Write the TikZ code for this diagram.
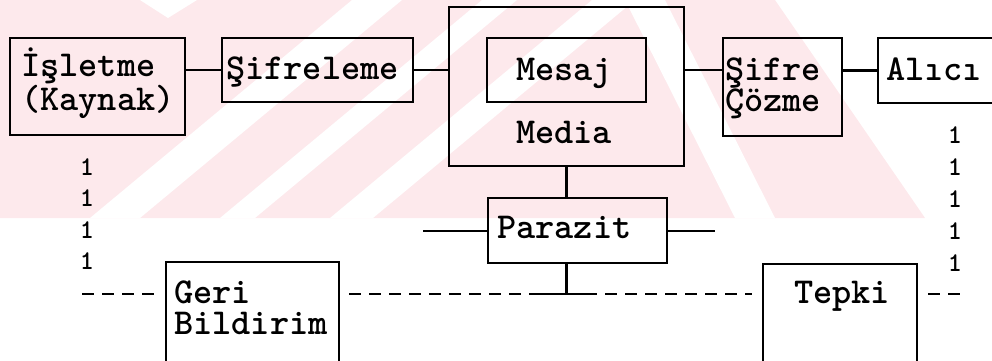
\documentclass[tikz,border=0pt]{standalone}
\definecolor{wmpink}{RGB}{253,233,236}
\tikzset{
  box/.style={draw=black, line width=2.4pt, inner sep=0pt, outer sep=0pt},
  wire/.style={draw=black, line width=2.2pt},
  fb/.style={draw=black, line width=2.2pt, dash pattern=on 12pt off 8pt},
  lbl/.style={font=\fontsize{36.5}{31}\selectfont\ttfamily\bfseries, inner sep=0pt,
              anchor=base west, align=left},
  tick/.style={font=\fontsize{27}{27}\selectfont\ttfamily\bfseries, inner sep=0pt, anchor=base}
}
\begin{document}
\begin{tikzpicture}[x=1pt,y=-1pt]
\useasboundingbox (0,0) rectangle (992,360);
\clip (0,0) rectangle (992,360);

% faint striped tint behind the upper half
\begin{scope}
  \clip (0,0) rectangle (992,218);
  \fill[wmpink] (0,0) -- (775,0) -- (925,218) -- (0,218) -- cycle;
  \fill[white] (140,0) -- (197,0) -- (168,18) -- cycle;
  \fill[white] (352,0) -- (402,0) -- (140,218) -- (90,218) -- cycle;
  \fill[white] (482,0) -- (517,0) -- (255,218) -- (220,218) -- cycle;
  \fill[white] (592,0) -- (635,0) -- (373,218) -- (330,218) -- cycle;
  \fill[white] (625,0) -- (665,0) -- (775,218) -- (735,218) -- cycle;
\end{scope}

% boxes
\node[box, minimum width=175pt, minimum height=97pt]  (isl)     at (97.5,86.5)  {};
\node[box, minimum width=191pt, minimum height=64pt]  (sif)     at (317.5,70)   {};
\node[box, minimum width=235pt, minimum height=159pt] (media)   at (566.5,86.5) {};
\node[box, minimum width=159pt, minimum height=64pt]  (mesaj)   at (566.5,70)   {};
\node[box, minimum width=119pt, minimum height=98pt]  (coz)     at (782.5,87)   {};
\node[box, minimum width=140pt, minimum height=65pt]  (alici)   at (948,70.5)   {};
\node[box, minimum width=179pt, minimum height=65pt]  (parazit) at (577.5,230.5){};
\node[box, minimum width=173pt, minimum height=120pt] (geri)    at (252.5,322)  {};
\node[box, minimum width=154pt, minimum height=120pt] (tepki)   at (840,324)    {};

% labels (multi-line ones sit on the baseline of their last line)
\node[lbl] (islT) at (21,110)  {İşletme\\(Kaynak)};
\node[lbl] (sifT) at (226,79)  {Şifreleme};
\node[lbl] (mesT) at (516,80)  {Mesaj};
\node[lbl] (medT) at (516,143) {Media};
\node[lbl] (cozT) at (725,111) {Şifre\\Çözme};
\node[lbl] (aliT) at (886,80)  {Alıcı};
\node[lbl] (parT) at (497,238) {Parazit};
\node[lbl] (gerT) at (174,334) {Geri\\Bildirim};
\node[lbl] (tepT) at (794,303) {Tepki};

% dotted return columns
\node[tick] (l1) at (87,175) {1};
\node[tick] (l2) at (87,206) {1};
\node[tick] (l3) at (87,238) {1};
\node[tick] (l4) at (87,269) {1};
\node[tick] (r1) at (955,143) {1};
\node[tick] (r2) at (955,175) {1};
\node[tick] (r3) at (955,207) {1};
\node[tick] (r4) at (955,239) {1};
\node[tick] (r5) at (955,271) {1};

% forward chain
\draw[wire] (isl.east |- sif.west) -- (sif.west);
\draw[wire] (sif.east) -- (sif.east -| media.west);
\draw[wire] (media.east |- mesaj.east) -- (coz.west |- mesaj.east);
\draw[wire] (coz.east |- alici.west) -- (alici.west);

% noise
\coordinate (nzL) at (423,231);
\coordinate (nzR) at (715,231);
\draw[wire] (media.south) -- (media.south |- parazit.north);
\draw[wire] (nzL) -- (nzL -| parazit.west);
\draw[wire] (parazit.east |- nzR) -- (nzR);

% feedback line
\coordinate (jn)  at (566.5,294);
\coordinate (sL)  at (537,294);
\coordinate (sR)  at (597,294);
\coordinate (dR)  at (605,294);
\coordinate (fbA) at (82,294);
\coordinate (fbB) at (154,294);
\coordinate (fbC) at (349,294);
\coordinate (fbD) at (752,294);
\coordinate (fbE) at (928,294);
\coordinate (fbF) at (960,294);
\draw[wire] (media.south |- parazit.south) -- (jn);
\draw[wire] (sL) -- (sR);
\draw[fb] (fbA) -- (fbB);
\draw[fb] (fbC) -- (sL);
\draw[fb] (dR) -- (fbD);
\draw[fb] (fbE) -- (fbF);
\end{tikzpicture}
\end{document}
